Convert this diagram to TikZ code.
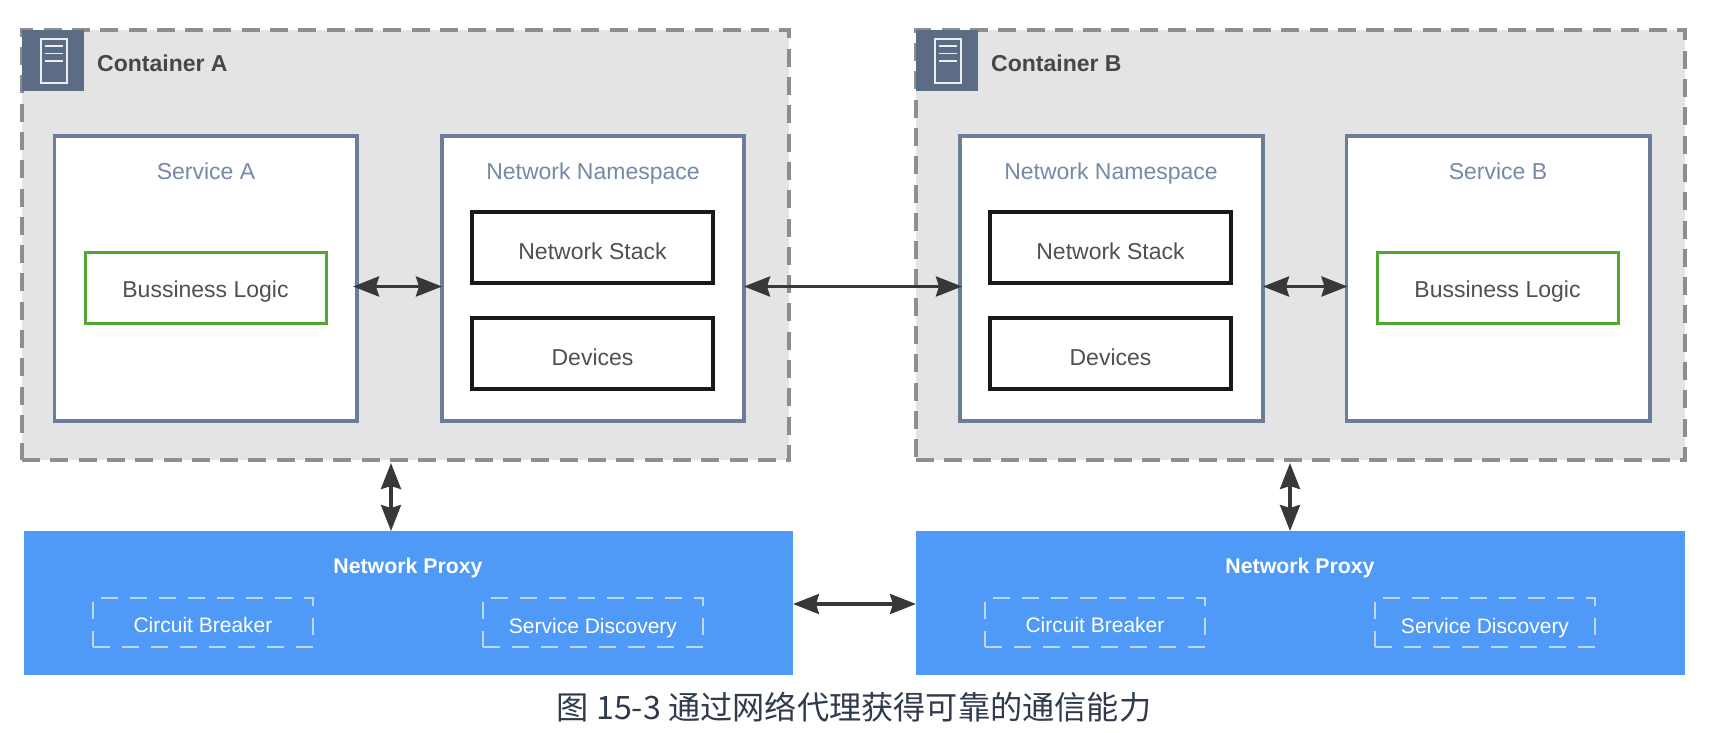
\documentclass[tikz,border=0pt]{standalone}
\usepackage{fontspec}
\setmainfont{Liberation Sans}
\newfontfamily\cjkfont{Noto Sans CJK SC}
\usetikzlibrary{arrows.meta}
\definecolor{contfill}{HTML}{E4E4E4}
\definecolor{contdash}{HTML}{8E8E8E}
\definecolor{slateb}{HTML}{6B7D9B}
\definecolor{slatet}{HTML}{7689A8}
\definecolor{iconb}{HTML}{5D6C85}
\definecolor{logicg}{HTML}{4EA832}
\definecolor{proxyb}{HTML}{4F9AF7}
\definecolor{proxyd}{HTML}{BBD7FB}
\definecolor{txt}{HTML}{505050}
\definecolor{arrowc}{HTML}{383838}
\definecolor{capc}{HTML}{2F3B4C}
\newcommand{\bx}[7][]{%
  \pgfmathsetmacro{\bw}{#5-#3}\pgfmathsetmacro{\bh}{#6-#4}%
  \node[#2,minimum width=\bw pt,minimum height=\bh pt,#1] (#7) at ({(#3+#5)/2},{(#4+#6)/2})}
\tikzset{
  base/.style={rectangle,inner sep=0pt,outer sep=0pt},
  container/.style={base,fill=contfill,draw=contdash,line width=3.2pt,dash pattern=on 18pt off 10.3pt},
  iconbox/.style={base,fill=iconb},
  outerbox/.style={base,fill=white,draw=slateb,line width=3.1pt},
  innerbox/.style={base,fill=white,draw=black!90,line width=3.2pt,text=txt,text height=23pt,text depth=0pt,font=\fontsize{23}{26}\selectfont},
  logicbox/.style={base,fill=white,draw=logicg,line width=3pt,text=txt,text height=20pt,text depth=0pt,font=\fontsize{23}{26}\selectfont},
  proxybox/.style={base,fill=proxyb},
  featbox/.style={base,draw=proxyd,line width=2.6pt,dash pattern=on 17pt off 12pt,text=white,text height=20pt,text depth=0pt,font=\fontsize{21}{24}\selectfont},
  ctitle/.style={text=black!72,font=\fontsize{23}{26}\selectfont\bfseries,anchor=base west,inner sep=0pt},
  stitle/.style={text=slatet,font=\fontsize{23}{26}\selectfont,anchor=base,inner sep=0pt},
  ptitle/.style={text=white,font=\fontsize{21.3}{24}\selectfont\bfseries,anchor=base,inner sep=0pt},
  link/.style={draw=arrowc,line width=3.4pt,{Stealth[length=26pt,width=20pt,inset=3pt]}-{Stealth[length=26pt,width=20pt,inset=3pt]}},
  iconline/.style={draw=white!88!iconb,line width=1.3pt},
  captiontext/.style={text=capc,font=\cjkfont\fontsize{32.2}{36}\selectfont,inner sep=0pt}
}
\begin{document}
\begin{tikzpicture}[x=1pt,y=-1pt]
\useasboundingbox (0,0) rectangle (1710,732);
% containers
\bx{container}{22}{30}{789}{460}{contA} {};
\bx{container}{916}{30}{1685}{460}{contB} {};
% icons
\bx{iconbox}{22}{30}{84}{91}{iconA} {};
\bx{iconbox}{916}{30}{978}{91}{iconB} {};
\draw[iconline] (41,39) rectangle (67,83) (45,46)--(63,46) (45,53.5)--(63,53.5) (45,61)--(63,61);
\draw[iconline] (935,39) rectangle (961,83) (939,46)--(957,46) (939,53.5)--(957,53.5) (939,61)--(957,61);
\node[ctitle] (ctA) at (97,71) {Container A};
\node[ctitle] (ctB) at (991,71) {Container B};
% outer boxes
\bx{outerbox}{54.5}{136}{357}{421}{svcA} {};
\bx{outerbox}{442}{136}{744}{421}{nsA} {};
\bx{outerbox}{960}{136}{1263}{421}{nsB} {};
\bx{outerbox}{1346.5}{136}{1650}{421}{svcB} {};
\node[stitle] (tsA) at (206,179.5) {Service A};
\node[stitle] (tnA) at (593,179.5) {Network Namespace};
\node[stitle] (tnB) at (1111,179.5) {Network Namespace};
\node[stitle] (tsB) at (1498,179.5) {Service B};
% inner boxes
\bx{logicbox}{85}{252}{326}{323}{logA} {Bussiness Logic};
\bx{innerbox}{472}{212}{713}{283}{stackA} {Network Stack};
\bx{innerbox}{472}{318}{713}{389}{devA} {Devices};
\bx{innerbox}{990}{212}{1231}{283}{stackB} {Network Stack};
\bx{innerbox}{990}{318}{1231}{389}{devB} {Devices};
\bx{logicbox}{1377}{252}{1618}{323}{logB} {Bussiness Logic};
% proxies
\bx{proxybox}{24}{531}{793}{675}{proxyA} {};
\bx{proxybox}{916}{531}{1685}{675}{proxyB} {};
\node[ptitle] (tpA) at (408,573) {Network Proxy};
\node[ptitle] (tpB) at (1300,573) {Network Proxy};
\bx{featbox}{93}{598}{313}{647}{cbA} {Circuit Breaker};
\bx[text height=22pt]{featbox}{483}{598}{703}{647}{sdA} {Service Discovery};
\bx{featbox}{985}{598}{1205}{647}{cbB} {Circuit Breaker};
\bx[text height=22pt]{featbox}{1375}{598}{1595}{647}{sdB} {Service Discovery};
% connectors
\draw[link] ([yshift=-8pt,xshift=-4pt]svcA.east) -- ([yshift=-8pt]nsA.west);
\draw[link] ([yshift=-8pt]nsA.east) -- ([yshift=-8pt,xshift=2pt]nsB.west);
\draw[link] ([yshift=-8pt]nsB.east) -- ([yshift=-8pt,xshift=1pt]svcB.west);
\draw[link] ([xshift=-14.5pt,yshift=-3pt]contA.south) -- ([xshift=-17.5pt]proxyA.north);
\draw[link] ([xshift=-10.5pt,yshift=-3pt]contB.south) -- ([xshift=-10.5pt]proxyB.north);
\draw[link] (proxyA.east |- 0,604) -- (proxyB.west |- 0,604);
% caption
\node[captiontext] (cap) at (854,707) {图 15-3 通过网络代理获得可靠的通信能力};
\end{tikzpicture}
\end{document}
